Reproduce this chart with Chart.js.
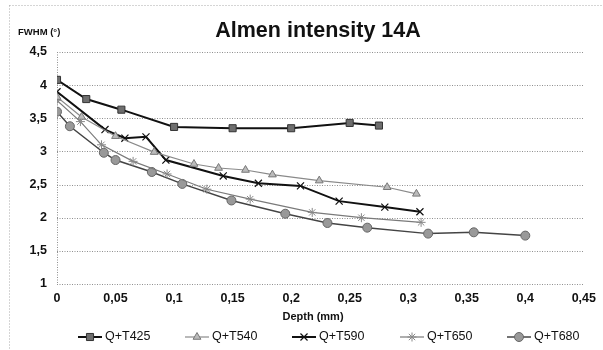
<!DOCTYPE html>
<html>
<head>
<meta charset="utf-8">
<script src="https://cdn.jsdelivr.net/npm/chart.js@4.4.1/dist/chart.umd.min.js"></script>
<style>
html,body{margin:0;padding:0;background:#fff;}
#wrap{position:relative;width:603px;height:350px;}
</style>
</head>
<body>
<div id="wrap"><canvas id="c" width="603" height="350"></canvas></div>
<script>
// ---- data ----
const seriesNames = ["Q+T425", "Q+T540", "Q+T590", "Q+T650", "Q+T680"];

const depth425 = [0, 0.025, 0.055, 0.1, 0.15, 0.2, 0.25, 0.275];
const fwhm425  = [4.08, 3.79, 3.63, 3.37, 3.35, 3.35, 3.43, 3.39];

const depth540 = [0, 0.021, 0.05, 0.083, 0.117, 0.138, 0.161, 0.184, 0.224, 0.282, 0.307];
const fwhm540  = [3.82, 3.52, 3.23, 2.99, 2.81, 2.75, 2.72, 2.65, 2.56, 2.46, 2.36];

const depth590 = [0, 0.041, 0.058, 0.076, 0.093, 0.142, 0.172, 0.208, 0.241, 0.28, 0.31];
const fwhm590  = [3.9, 3.33, 3.2, 3.22, 2.87, 2.63, 2.52, 2.48, 2.25, 2.16, 2.09];

const depth650 = [0, 0.02, 0.038, 0.065, 0.094, 0.128, 0.165, 0.218, 0.26, 0.311];
const fwhm650  = [3.77, 3.45, 3.1, 2.85, 2.66, 2.43, 2.28, 2.08, 2.0, 1.93];

const depth680 = [0, 0.011, 0.04, 0.05, 0.081, 0.107, 0.149, 0.195, 0.231, 0.265, 0.317, 0.356, 0.4];
const fwhm680  = [3.6, 3.38, 2.98, 2.87, 2.69, 2.51, 2.26, 2.06, 1.92, 1.85, 1.76, 1.78, 1.73];

const xTicks = [0, 0.05, 0.1, 0.15, 0.2, 0.25, 0.3, 0.35, 0.4, 0.45];
const yTicks = [1, 1.5, 2, 2.5, 3, 3.5, 4, 4.5];

const titleText = "Almen intensity 14A";
const yTitleText = "FWHM (°)";
const xTitleText = "Depth (mm)";

// ---- build ----
function pts(xs, ys){ return xs.map((x,i)=>({x:x, y:ys[i]})); }
const styles = [
  {line:'#111', lw:2,   ps:'rect',     r:5,   fill:'#6e6e6e', stroke:'#333', bw:1},
  {line:'#8a8a8a', lw:1.2, ps:'triangle', r:4.5, fill:'#bbb', stroke:'#777', bw:1},
  {line:'#111', lw:2,   ps:'crossRot', r:5,   fill:'#111', stroke:'#111', bw:1.2},
  {line:'#7a7a7a', lw:1.2, ps:'star',     r:4.5, fill:'#aaa', stroke:'#888', bw:1},
  {line:'#444', lw:1.5, ps:'circle',   r:4.5, fill:'#999', stroke:'#666', bw:1}
];
const xs = [depth425, depth540, depth590, depth650, depth680];
const ys = [fwhm425, fwhm540, fwhm590, fwhm650, fwhm680];
const datasets = seriesNames.map((n,i)=>({
  label:n, data:pts(xs[i], ys[i]), showLine:true, tension:0,
  borderColor:styles[i].line, borderWidth:styles[i].lw,
  pointStyle:styles[i].ps, pointRadius:styles[i].r,
  pointBackgroundColor:styles[i].fill, pointBorderColor:styles[i].stroke,
  pointBorderWidth:styles[i].bw
}));

const comma = v => String(Math.round(v*100)/100).replace('.', ',');
const FONT = "'Liberation Sans', Arial, sans-serif";

const decor = {
  id:'decor',
  beforeDraw(chart){
    const ctx = chart.ctx;
    ctx.save();
    ctx.strokeStyle = '#aaa'; ctx.lineWidth = 1; ctx.setLineDash([1,2]);
    ctx.strokeRect(9.5, 5.5, 620, 360);
    ctx.restore();
  },
  beforeDatasetsDraw(chart){
    const ctx = chart.ctx, a = chart.chartArea, ys = chart.scales.y;
    ctx.save();
    ctx.strokeStyle = '#8f8f8f'; ctx.lineWidth = 1; ctx.setLineDash([1,1.5]);
    yTicks.forEach(v=>{
      const py = Math.round(ys.getPixelForValue(v)) + 0.5;
      ctx.beginPath(); ctx.moveTo(a.left, py); ctx.lineTo(a.right, py); ctx.stroke();
    });
    const px = Math.round(a.left) + 0.5;
    ctx.beginPath(); ctx.moveTo(px, a.top); ctx.lineTo(px, a.bottom); ctx.stroke();
    ctx.restore();
  },
  afterDraw(chart){
    const ctx = chart.ctx;
    const lx = [78, 185, 292, 400, 507];
    const ly = 337;
    ctx.save();
    ctx.fillStyle = '#111';
    ctx.textAlign = 'center'; ctx.textBaseline = 'alphabetic';
    ctx.font = "bold 21.5px " + FONT;
    ctx.fillText(titleText, 318, 37);
    ctx.textAlign = 'left';
    ctx.font = "bold 9.5px " + FONT;
    ctx.fillText(yTitleText, 18, 35);
    ctx.textAlign = 'center';
    ctx.font = "bold 11px " + FONT;
    ctx.fillText(xTitleText, 313, 320);
    ctx.font = "12.5px " + FONT;
    ctx.textBaseline = 'middle';
    chart.data.datasets.forEach((ds,i)=>{
      const x0 = lx[i];
      ctx.setLineDash([]);
      ctx.strokeStyle = ds.borderColor; ctx.lineWidth = ds.borderWidth;
      ctx.beginPath(); ctx.moveTo(x0, ly); ctx.lineTo(x0+24, ly); ctx.stroke();
      ctx.fillStyle = ds.pointBackgroundColor; ctx.strokeStyle = ds.pointBorderColor;
      ctx.lineWidth = ds.pointBorderWidth;
      Chart.helpers.drawPoint(ctx, {pointStyle: ds.pointStyle, radius: ds.pointRadius, borderWidth: ds.pointBorderWidth, rotation:0}, x0+12, ly);
      ctx.textAlign = 'left'; ctx.fillStyle = '#111';
      ctx.fillText(ds.label, x0+27, ly);
    });
    ctx.restore();
  }
};

new Chart(document.getElementById('c'), {
  type:'scatter',
  data:{datasets:datasets},
  plugins:[decor],
  options:{
    responsive:false, animation:false, devicePixelRatio:1,
    layout:{padding:{left:10, right:14, top:52, bottom:44}},
    plugins:{legend:{display:false}, title:{display:false}, tooltip:{enabled:false}},
    scales:{
      x:{
        type:'linear', min:0, max:0.45,
        afterBuildTicks(s){ s.ticks = xTicks.map(v=>({value:v})); },
        afterFit(s){ s.height = 22; },
        grid:{display:false, drawTicks:false},
        border:{display:false},
        ticks:{padding:7, color:'#111', font:{family:FONT, size:12.5, weight:'bold'}, maxRotation:0, autoSkip:false,
          callback:v=>comma(v)}
      },
      y:{
        type:'linear', min:1, max:4.5,
        afterBuildTicks(s){ s.ticks = yTicks.map(v=>({value:v})); },
        afterFit(s){ s.width = 47; },
        grid:{display:false, drawTicks:false},
        border:{display:false},
        ticks:{padding:10, color:'#111', font:{family:FONT, size:12.5, weight:'bold'},
          callback:v=>comma(v)}
      }
    }
  }
});
</script>
</body>
</html>
